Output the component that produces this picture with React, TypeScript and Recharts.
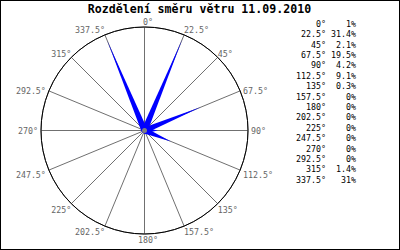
// Wind direction distribution (wind rose) for one day, drawn as thin petals on a polar grid.
import { RadarChart, Radar, PolarGrid, PolarAngleAxis, PolarRadiusAxis } from "recharts";

const title = "Rozdělení směru větru 11.09.2010";
const directions = [0, 22.5, 45, 67.5, 90, 112.5, 135, 157.5, 180, 202.5, 225, 247.5, 270, 292.5, 315, 337.5];
const shares = [1, 31.4, 2.1, 19.5, 4.2, 9.1, 0.3, 0, 0, 0, 0, 0, 0, 0, 1.4, 31];
const shareLabels = ["1%", "31.4%", "2.1%", "19.5%", "4.2%", "9.1%", "0.3%", "0%", "0%", "0%", "0%", "0%", "0%", "0%", "1.4%", "31%"];
const radiusMax = 33;

const CX = 143.5;
const CY = 129.5;
const R = 103.5;
const HALF_BASE = 3.1;
const FONT = "'DejaVu Sans Mono', 'Liberation Mono', monospace";
const RAD = Math.PI / 180;

const data = directions.map((d, i) => ({ dir: `${d}°`, share: shares[i] }));

function AngleTick(props: any) {
  const a = props.payload.coordinate;
  const h = Math.cos(a * RAD);
  const v = Math.sin(a * RAD);
  const px = CX + R * h;
  const py = CY - R * v;
  let anchor: "start" | "end" | "middle" = "middle";
  let dx = 3.5;
  if (h > 0.1) { anchor = "start"; dx = h > 0.9 ? 3 : 0; }
  else if (h < -0.1) { anchor = "end"; dx = h < -0.9 ? -3 : 0; }
  let base = py + 9;
  if (v > 0.9) base = py - 2;
  else if (v > 0.5) base = py;
  else if (v > 0.1) base = py + 3;
  else if (v >= -0.1) base = py + 3.3;
  else if (v >= -0.5) base = py + 7.5;
  return (
    <text x={px + dx} y={base} textAnchor={anchor} fill="#666" fontSize={8.3} fontFamily={FONT}>
      {props.payload.value}
    </text>
  );
}

function Petals(props: any) {
  const pts = props.points || [];
  return (
    <g>
      {pts.map((p: any, i: number) => {
        const cx = p.cx ?? CX;
        const cy = p.cy ?? CY;
        const dx = p.x - cx, dy = p.y - cy;
        const len = Math.hypot(dx, dy);
        if (!p.value || len < 0.5) return null;
        const nx = (-dy / len) * HALF_BASE;
        const ny = (dx / len) * HALF_BASE;
        return (
          <polygon key={i} points={`${cx + nx},${cy + ny} ${p.x},${p.y} ${cx - nx},${cy - ny}`} fill="#0000ff" />
        );
      })}
      <circle cx={CX} cy={CY} r={2.5} fill="#808080" />
    </g>
  );
}

export default function App() {
  return (
    <div style={{ position: "absolute", left: 0, top: 0, width: 400, height: 250, border: "1px solid #000", boxSizing: "border-box", background: "#fff" }}>
      <RadarChart width={398} height={248} data={data} cx={CX} cy={CY} outerRadius={R} innerRadius={0} margin={{ top: 0, right: 0, bottom: 0, left: 0 }}>
        <PolarGrid gridType="circle" polarRadius={[R]} polarAngles={directions.map((d) => 90 - d)} stroke="#707070" strokeWidth={1} />
        <PolarRadiusAxis domain={[0, radiusMax]} type="number" tick={false} axisLine={false} tickLine={false} />
        <PolarAngleAxis dataKey="dir" tick={AngleTick} tickLine={false} axisLineType="circle" axisLine={{ stroke: "#000", strokeWidth: 1 }} />
        <Radar dataKey="share" isAnimationActive={false} shape={Petals} />
      </RadarChart>
      <svg width={400} height={250} style={{ position: "absolute", left: -1, top: -1, pointerEvents: "none" }}>
        <text x={199.5} y={12.7} textAnchor="middle" fontSize={11.6} fontWeight="bold" fontFamily={FONT} fill="#000">
          {title}
        </text>
        {directions.map((d, i) => (
          <g key={d} fontSize={8.3} fontFamily={FONT} fill="#000">
            <text x={326} y={26.7 + i * 10.4} textAnchor="end">{`${d}°`}</text>
            <text x={356} y={26.7 + i * 10.4} textAnchor="end">{shareLabels[i]}</text>
          </g>
        ))}
      </svg>
    </div>
  );
}
